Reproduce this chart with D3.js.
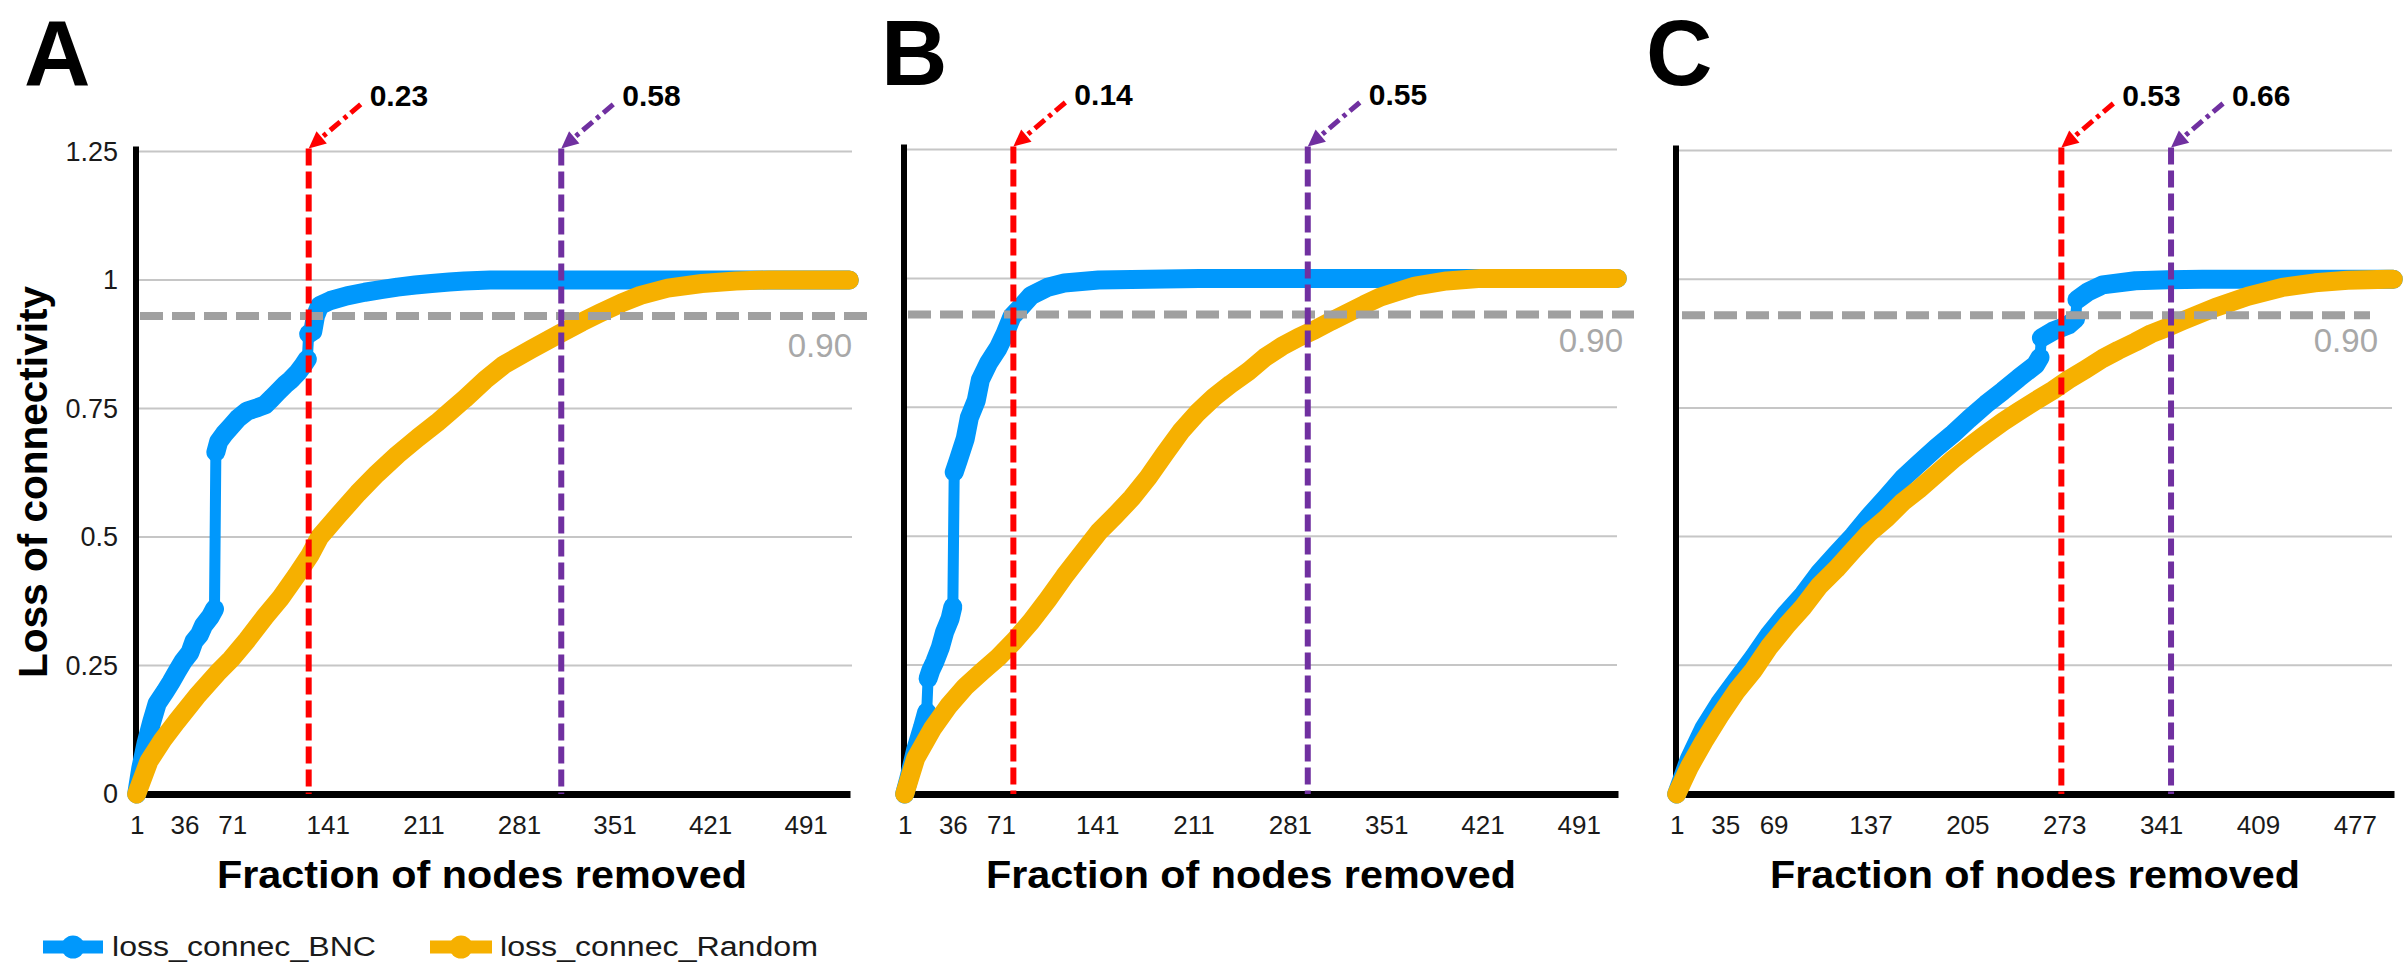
<!DOCTYPE html>
<html><head><meta charset="utf-8">
<script src="https://cdn.jsdelivr.net/npm/d3@7"></script>
<style>
body{margin:0;background:#fff}
svg{display:block}
text{font-family:"Liberation Sans",Arial,sans-serif}
</style>
</head><body>
<svg id="chart" width="2406" height="966"></svg>
<script>
// ================= DATA =================
const panelLetters = ["A", "B", "C"];
const nodeCounts = [523, 519, 504];
const xTickLabelsA = [1, 36, 71, 141, 211, 281, 351, 421, 491];
const xTickLabelsB = [1, 36, 71, 141, 211, 281, 351, 421, 491];
const xTickLabelsC = [1, 35, 69, 137, 205, 273, 341, 409, 477];
const yTickValues = [0, 0.25, 0.5, 0.75, 1, 1.25];
const thresholdValue = 0.93;
const thresholdLabel = "0.90";
const seriesNames = ["loss_connec_BNC", "loss_connec_Random"];
const xAxisTitle = "Fraction of nodes removed";
const yAxisTitle = "Loss of connectivity";

// cut-off positions (node index) and their labels
const cutoffNodesA = [127, 312], cutoffLabelsA = ["0.23", "0.58"];
const cutoffNodesB = [80, 294],  cutoffLabelsB = ["0.14", "0.55"];
const cutoffNodesC = [271, 348], cutoffLabelsC = ["0.53", "0.66"];

// series: [node index, loss of connectivity]
const bncA = [[1,0],[4,0.05],[8,0.1],[12,0.14],[16,0.176],[22,0.2],[26,0.217],[31,0.24],[35,0.258],[40,0.275],[43,0.297],[47,0.31],[50,0.328],[55,0.345],[58,0.36],[59,0.665],[61,0.685],[65,0.7],[70,0.715],[75,0.73],[82,0.745],[90,0.752],[95,0.757],[100,0.77],[104,0.781],[110,0.797],[114,0.806],[119,0.82],[123,0.834],[126,0.846],[127,0.895],[130,0.9],[132,0.93],[135,0.95],[143,0.96],[155,0.969],[168,0.976],[180,0.981],[192,0.986],[205,0.99],[217,0.993],[230,0.996],[241,0.998],[260,1],[523,1]];
const randomA = [[1,0],[10,0.064],[20,0.105],[30,0.14],[45,0.19],[60,0.235],[70,0.262],[82,0.3],[95,0.345],[106,0.38],[118,0.425],[128,0.465],[135,0.5],[148,0.54],[163,0.585],[177,0.623],[192,0.66],[207,0.693],[221,0.722],[231,0.745],[241,0.768],[256,0.805],[270,0.835],[290,0.865],[310,0.894],[327,0.918],[340,0.935],[356,0.955],[370,0.97],[390,0.984],[415,0.993],[440,0.998],[464,1],[523,1]];

const bncB = [[1,0],[4,0.03],[9,0.086],[14,0.13],[17,0.159],[18,0.224],[20,0.24],[23,0.257],[27,0.285],[30,0.314],[34,0.34],[36,0.363],[37,0.624],[40,0.648],[45,0.689],[48,0.73],[53,0.763],[56,0.803],[62,0.836],[69,0.865],[74,0.893],[79,0.926],[86,0.946],[93,0.967],[105,0.983],[117,0.991],[142,0.997],[190,0.999],[215,1],[519,1]];
const randomB = [[1,0],[9,0.069],[21,0.126],[33,0.171],[45,0.208],[57,0.237],[69,0.265],[81,0.298],[93,0.335],[105,0.377],[117,0.422],[130,0.467],[142,0.508],[154,0.54],[166,0.574],[178,0.614],[190,0.66],[202,0.704],[214,0.74],[226,0.77],[238,0.795],[251,0.82],[263,0.847],[275,0.868],[287,0.885],[299,0.9],[311,0.917],[323,0.933],[335,0.949],[347,0.964],[360,0.975],[372,0.985],[395,0.995],[420,1],[519,1]];

const bncC = [[1,0],[10,0.069],[20,0.127],[31,0.176],[43,0.221],[55,0.266],[66,0.31],[78,0.351],[90,0.388],[101,0.429],[113,0.466],[125,0.502],[136,0.539],[148,0.576],[160,0.614],[171,0.642],[183,0.672],[195,0.7],[206,0.728],[218,0.757],[230,0.783],[241,0.808],[253,0.834],[256,0.848],[257,0.886],[265,0.899],[276,0.911],[281,0.923],[282,0.96],[290,0.976],[300,0.989],[323,0.997],[346,0.999],[370,1],[504,1]];
const randomC = [[1,0],[10,0.053],[20,0.102],[31,0.151],[43,0.2],[55,0.241],[66,0.286],[78,0.327],[90,0.364],[101,0.404],[113,0.437],[125,0.474],[136,0.507],[148,0.535],[160,0.568],[171,0.592],[183,0.621],[195,0.65],[206,0.674],[218,0.699],[230,0.723],[241,0.743],[253,0.764],[265,0.784],[276,0.805],[288,0.825],[300,0.846],[311,0.862],[323,0.878],[334,0.894],[346,0.907],[356,0.919],[379,0.945],[402,0.967],[426,0.984],[449,0.993],[472,0.998],[500,1],[504,1]];

// ================= LAYOUT / STYLE =================
const colors = { bnc: "#0098fc", rnd: "#f6b000", red: "#ff0000", purple: "#7030a0", grid: "#c6c6c6", thr: "#a0a0a0" };
const layout = [
  { x0: 136, x1: 850, gridX1: 852, yTop: 151.4, yBot: 794, thrX0: 140, thrX1: 867, thrLabelX: 852, thrLabelY: 357, titleX: 482, letterX: 24 },
  { x0: 904, x1: 1618, gridX1: 1617, yTop: 149.5, yBot: 794, thrX0: 908, thrX1: 1634, thrLabelX: 1623, thrLabelY: 352, titleX: 1251, letterX: 881 },
  { x0: 1676, x1: 2394, gridX1: 2392, yTop: 150.5, yBot: 794, thrX0: 1682, thrX1: 2370, thrLabelX: 2378, thrLabelY: 352, titleX: 2035, letterX: 1646 }
];

const panels = [
  { letter: panelLetters[0], n: nodeCounts[0], ticks: xTickLabelsA, bnc: bncA, rnd: randomA, cut: cutoffNodesA, cutLbl: cutoffLabelsA, yLabels: true },
  { letter: panelLetters[1], n: nodeCounts[1], ticks: xTickLabelsB, bnc: bncB, rnd: randomB, cut: cutoffNodesB, cutLbl: cutoffLabelsB, yLabels: false },
  { letter: panelLetters[2], n: nodeCounts[2], ticks: xTickLabelsC, bnc: bncC, rnd: randomC, cut: cutoffNodesC, cutLbl: cutoffLabelsC, yLabels: false }
];

const svg = d3.select("#chart");

function drawSeries(g, data, x, y, color) {
  const line = d3.line().x(d => x(d[0])).y(d => y(d[1]));
  // thin connecting line (visible at abrupt jumps)
  g.append("path").attr("d", line(data)).attr("fill", "none").attr("stroke", color)
    .attr("stroke-width", 11).attr("stroke-linejoin", "round").attr("stroke-linecap", "round");
  // dense-marker band: runs broken at abrupt jumps
  const runs = []; let cur = [data[0]];
  for (let i = 1; i < data.length; i++) {
    const jump = (data[i][0] - data[i - 1][0] <= 1) && Math.abs(data[i][1] - data[i - 1][1]) > 0.03;
    if (jump) { runs.push(cur); cur = [data[i]]; } else cur.push(data[i]);
  }
  runs.push(cur);
  runs.forEach(r => {
    const d = r.length > 1 ? line(r) : `M${x(r[0][0])},${y(r[0][1])}l0,0`;
    g.append("path").attr("d", d).attr("fill", "none").attr("stroke", color)
      .attr("stroke-width", 19).attr("stroke-linejoin", "round").attr("stroke-linecap", "round");
  });
}

panels.forEach((p, i) => {
  const L = layout[i];
  const x = d3.scalePoint().domain(d3.range(1, p.n + 1)).range([L.x0, L.x1]).padding(0.5);
  const y = d3.scaleLinear().domain([0, 1.25]).range([L.yBot, L.yTop]);
  const g = svg.append("g");

  // gridlines
  g.selectAll("line.grid").data(yTickValues.filter(v => v > 0)).join("line")
    .attr("class", "grid").attr("x1", L.x0).attr("x2", L.gridX1)
    .attr("y1", d => y(d)).attr("y2", d => y(d))
    .attr("stroke", colors.grid).attr("stroke-width", 2);

  // y axis
  const yAx = g.append("g").attr("transform", `translate(${L.x0},0)`)
    .call(d3.axisLeft(y).tickValues(yTickValues).tickSize(0).tickSizeOuter(0).tickPadding(18)
      .tickFormat(d => p.yLabels ? String(d) : ""));
  yAx.select(".domain").attr("stroke", "#000").attr("stroke-width", 6)
    .attr("d", `M0,${L.yBot + 3}V${L.yTop - 5}`);
  yAx.selectAll("text").attr("font-size", 27).attr("fill", "#1a1a1a")
    .attr("font-family", "Liberation Sans, Arial, sans-serif");

  // x axis
  const xAx = g.append("g").attr("transform", `translate(0,${L.yBot})`)
    .call(d3.axisBottom(x).tickValues(p.ticks).tickSize(0).tickSizeOuter(0).tickPadding(22));
  xAx.select(".domain").attr("stroke", "#000").attr("stroke-width", 7);
  xAx.selectAll("text").attr("font-size", 26).attr("fill", "#1a1a1a")
    .attr("font-family", "Liberation Sans, Arial, sans-serif");

  // series (Random drawn above BNC)
  drawSeries(g, p.bnc, x, y, colors.bnc);
  drawSeries(g, p.rnd, x, y, colors.rnd);

  // 0.90 threshold
  g.append("line").attr("x1", L.thrX0).attr("x2", L.thrX1)
    .attr("y1", y(thresholdValue)).attr("y2", y(thresholdValue))
    .attr("stroke", colors.thr).attr("stroke-width", 8).attr("stroke-dasharray", "23,9");
  g.append("text").attr("x", L.thrLabelX).attr("y", L.thrLabelY).attr("text-anchor", "end")
    .attr("font-size", 33).attr("fill", "#a8a8a8").attr("font-family", "Roboto, Liberation Sans, sans-serif")
    .attr("font-weight", 300).text(thresholdLabel);

  // cut-off lines with arrows and labels
  const cutColors = [colors.red, colors.purple];
  p.cut.forEach((node, k) => {
    const cx = x(node), c = cutColors[k];
    const tipY = L.yTop - 3;
    g.append("line").attr("x1", cx).attr("x2", cx).attr("y1", tipY).attr("y2", L.yBot)
      .attr("stroke", c).attr("stroke-width", 6).attr("stroke-dasharray", "17,6");
    const sx = cx + 52, sy = tipY - 44;
    const dx = cx - sx, dy = tipY - sy, len = Math.hypot(dx, dy), ux = dx / len, uy = dy / len;
    const hl = 17, hw = 8;
    g.append("line").attr("x1", sx).attr("y1", sy).attr("x2", cx - ux * (hl - 2)).attr("y2", tipY - uy * (hl - 2))
      .attr("stroke", c).attr("stroke-width", 5).attr("stroke-dasharray", "13,5,4,5");
    const bx = cx - ux * hl, by = tipY - uy * hl;
    g.append("path").attr("d", `M${cx},${tipY}L${bx - uy * hw},${by + ux * hw}L${bx + uy * hw},${by - ux * hw}Z`).attr("fill", c);
    g.append("text").attr("x", sx + 9).attr("y", sy + 2).attr("font-size", 30).attr("font-weight", "bold")
      .attr("fill", "#000").text(p.cutLbl[k]);
  });

  // panel letter
  svg.append("text").attr("x", L.letterX).attr("y", 85).attr("font-size", 92).attr("font-weight", "bold")
    .attr("fill", "#000").text(p.letter);

  // x-axis title
  svg.append("text").attr("x", L.titleX).attr("y", 888).attr("text-anchor", "middle")
    .attr("font-family", "Lato, Liberation Sans, sans-serif").attr("font-weight", 700).attr("font-size", 38)
    .attr("textLength", 530).attr("lengthAdjust", "spacingAndGlyphs").attr("fill", "#000").text(xAxisTitle);
});

// y-axis title
svg.append("text").attr("transform", "translate(47,482) rotate(-90)").attr("text-anchor", "middle")
  .attr("font-family", "DejaVu Sans, sans-serif").attr("font-weight", "bold").attr("font-size", 40)
  .attr("textLength", 392).attr("lengthAdjust", "spacingAndGlyphs").attr("fill", "#000").text(yAxisTitle);

// legend
const legendItems = [
  { name: seriesNames[0], color: colors.bnc, lx0: 43, lx1: 103, tx: 112, tl: 264 },
  { name: seriesNames[1], color: colors.rnd, lx0: 430, lx1: 492, tx: 500, tl: 318 }
];
const lg = svg.append("g");
legendItems.forEach(it => {
  lg.append("line").attr("x1", it.lx0).attr("x2", it.lx1).attr("y1", 947).attr("y2", 947)
    .attr("stroke", it.color).attr("stroke-width", 13);
  lg.append("circle").attr("cx", (it.lx0 + it.lx1) / 2).attr("cy", 947).attr("r", 11.5).attr("fill", it.color);
  lg.append("text").attr("x", it.tx).attr("y", 956).attr("font-size", 27).attr("fill", "#1a1a1a")
    .attr("textLength", it.tl).attr("lengthAdjust", "spacingAndGlyphs").text(it.name);
});
</script>
</body></html>
